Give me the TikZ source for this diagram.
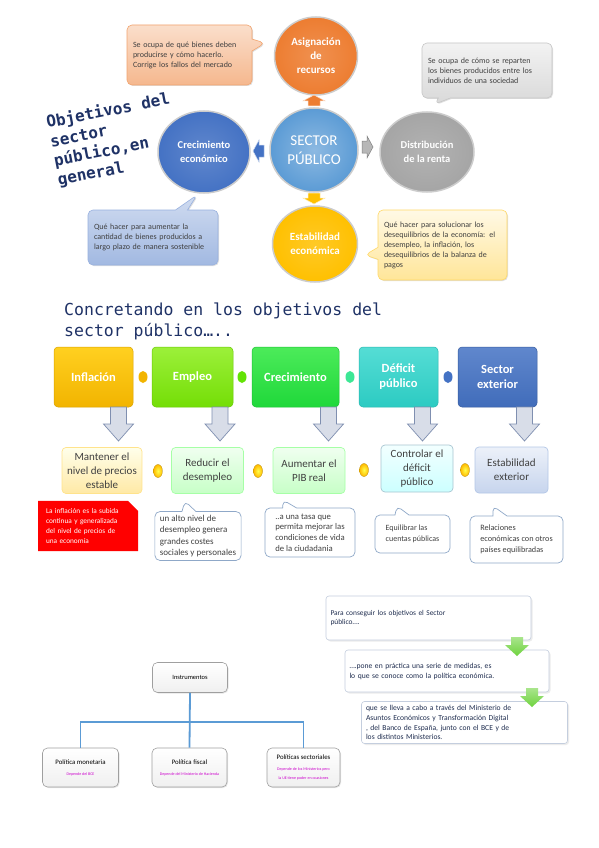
\documentclass[tikz,border=0pt]{standalone}
\usepackage{fontspec}
\setmainfont{Carlito}
\newfontfamily\monof{DejaVu Sans Mono}
\usetikzlibrary{shapes.geometric,shapes.callouts,shapes.misc,shadows}
\definecolor{navy}{HTML}{1F3266}
\definecolor{orng}{HTML}{ED7D31}
\definecolor{blu}{HTML}{4472C4}
\definecolor{lblu}{HTML}{5B9BD5}
\definecolor{gry}{HTML}{A5A5A5}
\definecolor{ylw}{HTML}{FFC000}
\definecolor{txt}{HTML}{404040}
\definecolor{callb}{HTML}{8FA8C8}
\definecolor{flowb}{HTML}{C4CEDE}
\definecolor{flowt}{HTML}{1F2D4F}
\definecolor{arrg}{HTML}{D8DDE8}
\definecolor{arrb}{HTML}{7F8FB0}
\definecolor{grn}{HTML}{6FD33F}
\definecolor{mag}{HTML}{CC00CC}
\definecolor{limeA}{HTML}{9CF03A}
\definecolor{limeB}{HTML}{74DE06}
\definecolor{grnA}{HTML}{4CEB5A}
\definecolor{grnB}{HTML}{1FD83A}
\definecolor{tealA}{HTML}{55DDD5}
\definecolor{tealB}{HTML}{2CCBC2}
\definecolor{ylwA}{HTML}{FFD020}
\definecolor{ylwB}{HTML}{F2B400}
\newcommand\magtext[1]{{\color{mag}\fontsize{4}{4.8}\selectfont #1}}
\newcommand\orgtitle[1]{{\fontsize{6.8}{8.5}\selectfont #1}}
\tikzset{
  bigc/.style={ellipse, inner sep=0pt, align=center, text=white, draw=white!80!black, line width=1.5pt},
  call/.style={rectangle callout, rounded corners=5pt, align=left, inner xsep=6pt, inner ysep=3pt,
    text=txt, font=\fontsize{8}{10}\selectfont, callout pointer width=12pt, line width=0.6pt,
    drop shadow={opacity=0.25, shadow xshift=1pt, shadow yshift=-1pt}},
  topbox/.style={rectangle, rounded corners=4pt, minimum height=60pt, align=center, text=white,
    font=\bfseries\fontsize{12.5}{15}\selectfont, inner sep=2pt, line width=0.5pt},
  midbox/.style={rectangle, rounded corners=4pt, minimum height=46pt, align=center, text=txt,
    font=\fontsize{11}{14}\selectfont, line width=0.7pt, inner sep=2pt},
  wcall/.style={rectangle callout, rounded corners=5pt, fill=white, draw=callb, line width=0.7pt,
    align=left, text=txt, callout pointer width=14pt, inner xsep=5pt},
  dot/.style={ellipse, inner sep=0pt, minimum width=9pt, minimum height=12pt},
  flow/.style={rectangle, rounded corners=3pt, fill=white, draw=flowb, line width=0.6pt, align=left,
    text=flowt, inner xsep=4pt, drop shadow={opacity=0.15, shadow xshift=1.5pt, shadow yshift=-1.5pt}},
  org/.style={rectangle, rounded corners=5pt, top color=white, bottom color=gray!12, draw=gray!75,
    line width=0.6pt, align=center, inner sep=1pt,
    drop shadow={opacity=0.2, shadow xshift=1pt, shadow yshift=-1pt}},
  conn/.style={draw=lblu, line width=1.8pt},
  dnarr/.pic={\path[pic actions] (-8,0) -- (8,0) -- (8,17) -- (15,17) -- (0,34) -- (-15,17) -- (-8,17) -- cycle;},
  smarr/.pic={\path[pic actions] (0,-6) -- (11,0) -- (6,0) -- (6,5) -- (-6,5) -- (-6,0) -- (-11,0) -- cycle;},
  grarr/.pic={\path[pic actions] (-6,0) -- (6,0) -- (6,8) -- (12,8) -- (0,19) -- (-12,8) -- (-6,8) -- cycle;},
}
\begin{document}
\begin{tikzpicture}[x=1pt,y=-1pt]
\useasboundingbox[fill=white] (0,0) rectangle (599,848);

% ---------- Section 1 ----------
\node[anchor=north west, rotate=11, inner sep=0pt, align=left, text=navy,
  font=\monof\bfseries\fontsize{16}{19.5}\selectfont] (title1) at (45,115)
  {Objetivos del\\sector\\público,en\\general};

\node[bigc, minimum width=83pt, minimum height=78pt, inner color=orng!85!white, outer color=orng,
  font=\bfseries\fontsize{11}{14}\selectfont] (asig) at (316,56) {Asignación\\de\\recursos};
\node[bigc, minimum width=88pt, minimum height=84pt, inner color=lblu!70!white, outer color=lblu,
  font=\fontsize{15}{19}\selectfont] (sector) at (314,150) {SECTOR\\PÚBLICO};
\node[bigc, minimum width=92pt, minimum height=82pt, inner color=blu!85!white, outer color=blu,
  font=\bfseries\fontsize{10.5}{14}\selectfont] (crec) at (204,152) {Crecimiento\\económico};
\node[bigc, minimum width=94pt, minimum height=80pt, inner color=gry!85!white, outer color=gry,
  font=\bfseries\fontsize{10.5}{14}\selectfont] (dist) at (427,152) {Distribución\\de la renta};
\node[bigc, minimum width=85pt, minimum height=76pt, inner color=ylw!85!white, outer color=ylw,
  font=\bfseries\fontsize{11}{14}\selectfont] (estab) at (315,244) {Estabilidad\\económica};

\pic[fill=orng, draw=white!70!orng, line width=0.5pt] at (314,101) {smarr};
\pic[rotate=90, fill=blu, draw=white!70!blu, line width=0.5pt] at (259,151) {smarr};
\pic[rotate=-90, fill=gry!80!white, draw=gray, line width=0.5pt] at (367,147) {smarr};
\pic[rotate=180, fill=ylw, draw=white!70!ylw, line width=0.5pt] at (314,198) {smarr};

\node[call, top color=orng!25!white, bottom color=orng!55!white, draw=orng!70!white,
  minimum width=125pt, minimum height=60pt, text width=113pt,
  callout absolute pointer={(265,43)}] (c1) at (189.5,55)
  {Se ocupa de qué bienes deben\\producirse y cómo hacerlo.\\Corrige los fallos del mercado};
\node[call, top color=gray!10, bottom color=gray!30, draw=gray!45,
  minimum width=130pt, minimum height=55pt, text width=118pt,
  callout absolute pointer={(435,104)}] (c2) at (487,70.5)
  {Se ocupa de cómo se reparten\\los bienes producidos entre los\\individuos de una sociedad};
\node[call, top color=blu!25!white, bottom color=blu!50!white, draw=blu!55!white,
  minimum width=130pt, minimum height=55pt, text width=118pt,
  callout absolute pointer={(197,195)}] (c3) at (153,237.5)
  {Qué hacer para aumentar la\\cantidad de bienes producidos a\\largo plazo de manera sostenible};
\node[call, top color=ylw!10!white, bottom color=ylw!40!white, draw=ylw!60!white,
  minimum width=129pt, minimum height=70pt, text width=117pt,
  callout absolute pointer={(365,255)}] (c4) at (442.5,245)
  {Qué hacer para solucionar los\\desequilibrios de la economía: el\\desempleo, la inflación, los\\desequilibrios de la balanza de\\pagos};

% ---------- Section 2 ----------
\node[anchor=north west, inner sep=0pt, align=left, text=navy,
  font=\monof\fontsize{16.5}{21}\selectfont] (title2) at (64,303)
  {Concretando en los objetivos del\\sector público…..};

\node[topbox, minimum width=79pt, top color=ylwA, bottom color=ylwB, draw=ylwB!90!black] (b1) at (93.5,377) {Inflación};
\node[topbox, minimum width=81pt, top color=limeA, bottom color=limeB, draw=limeB!90!black] (b2) at (192.5,377) {Empleo};
\node[topbox, minimum width=87pt, top color=grnA, bottom color=grnB, draw=grnB!90!black] (b3) at (295.5,377) {Crecimiento};
\node[topbox, minimum width=79pt, top color=tealA, bottom color=tealB, draw=tealB!90!black] (b4) at (398.5,377) {Déficit\\público};
\node[topbox, minimum width=79pt, top color=blu!85!white, bottom color=blu!95!black, draw=blu!80!black] (b5) at (497.5,377) {Sector\\exterior};

\node[dot, fill=ylwB] (d1) at (143,377) {};
\node[dot, fill=limeB!85!green] (d2) at (242,377) {};
\node[dot, fill=tealA!70!green] (d3) at (350,377) {};
\node[dot, fill=blu] (d4) at (448,377) {};

\foreach \ax in {118.5,220,328.5,422.5,524.5}
  \pic[fill=arrg, draw=arrb, line width=0.7pt] at (\ax,407) {dnarr};

\node[midbox, minimum width=80pt, top color=yellow!8!white, bottom color=ylw!35!white, draw=ylw!45!white] (m1) at (102,470.5) {Mantener el\\nivel de precios\\estable};
\node[midbox, minimum width=72pt, top color=green!6!white, bottom color=green!22!white, draw=green!35!white] (m2) at (207.5,470.5) {Reducir el\\desempleo};
\node[midbox, minimum width=72pt, top color=green!6!white, bottom color=green!22!white, draw=green!35!white] (m3) at (309,470.5) {Aumentar el\\PIB real};
\node[midbox, minimum width=72pt, minimum height=47pt, top color=cyan!5!white, bottom color=cyan!20!white, draw=cyan!35!gray!60!white] (m4) at (417,468.5) {Controlar el\\déficit\\público};
\node[midbox, minimum width=73pt, top color=blu!10!white, bottom color=blu!30!white, draw=blu!40!white] (m5) at (511.5,470) {Estabilidad\\exterior};

\foreach \dx/\dy/\nm in {158/471/e1, 258/471/e2, 364/470/e3, 465/470/e4}
  \node[dot, minimum height=13pt, inner color=yellow!70!white, outer color=ylw!90!orange, draw=ylw!70!black, line width=0.3pt] (\nm) at (\dx,\dy) {};

\node[chamfered rectangle, chamfered rectangle corners=north east, chamfered rectangle xsep=5pt,
  chamfered rectangle ysep=5pt, fill=red, minimum width=91pt, minimum height=42pt, text=white,
  align=left, text width=84pt, inner sep=3pt, font=\fontsize{7.3}{9.7}\selectfont] (r1) at (88,526)
  {La inflación es la subida\\continua y generalizada\\del nivel de precios de\\una economía};

\node[wcall, minimum width=84pt, minimum height=48pt, font=\fontsize{9}{11.5}\selectfont,
  callout absolute pointer={(185,501)}] (w1) at (198,536)
  {un alto nivel de\\desempleo genera\\grandes costes\\sociales y personales};
\node[wcall, minimum width=90pt, minimum height=49pt, font=\fontsize{8.7}{10.8}\selectfont,
  callout absolute pointer={(283,500)}] (w2) at (310,532.5)
  {..a una tasa que\\permita mejorar las\\condiciones de vida\\de la ciudadania};
\node[wcall, minimum width=75pt, minimum height=38pt, font=\fontsize{8}{11}\selectfont,
  callout absolute pointer={(397,506)}] (w3) at (412.5,534)
  {Equilibrar las\\cuentas públicas};
\node[wcall, minimum width=93pt, minimum height=47pt, font=\fontsize{8.2}{10.8}\selectfont,
  callout absolute pointer={(493,506)}] (w4) at (516.5,539.5)
  {Relaciones\\económicas con otros\\países equilibradas};

% ---------- Section 3 ----------
\node[flow, minimum width=205pt, minimum height=44pt, text width=196pt, font=\fontsize{7.4}{8.6}\selectfont] (f1) at (428.5,618)
  {Para conseguir los objetivos el Sector\\público….};
\node[flow, minimum width=204pt, minimum height=42pt, text width=195pt, font=\fontsize{7.6}{10}\selectfont] (f2) at (447,671)
  {….pone en práctica una serie de medidas, es\\lo que se conoce como la política económica.};
\node[flow, minimum width=206pt, minimum height=42pt, text width=197pt, font=\fontsize{7.6}{9.8}\selectfont] (f3) at (464.5,722.5)
  {que se lleva a cabo a través del Ministerio de\\Asuntos Económicos y Transformación Digital\\, del Banco de España, junto con el BCE y de\\los distintos Ministerios.};
\pic[top color=grn!60!white, bottom color=grn, draw=none] at (517,637) {grarr};
\pic[top color=grn!60!white, bottom color=grn, draw=none] at (532,688) {grarr};

\node[org, minimum width=75pt, minimum height=30pt, font=\fontsize{6.5}{8}\selectfont] (instr) at (190,677.5) {Instrumentos};
\node[org, minimum width=76pt, minimum height=39pt] (mon) at (80.5,767.5)
  {\orgtitle{Política monetaria}\\[-1pt]\magtext{Depende del BCE}};
\node[org, minimum width=75pt, minimum height=39pt] (fisc) at (189.5,767.5)
  {\orgtitle{Política fiscal}\\[-1pt]\magtext{Depende del Ministerio de Hacienda}};
\node[org, minimum width=73pt, minimum height=39pt] (sect) at (303.5,767.5)
  {\orgtitle{Políticas sectoriales}\\[-1pt]\magtext{Depende de los Ministerios pero}\\[-3pt]\magtext{la UE tiene poder en ocasiones}};
\coordinate (hbar) at (190,722);
\draw[conn] (instr.south) -- (fisc.north);
\draw[conn] (mon.north) -- (mon.north |- hbar) -- (sect.north |- hbar) -- (sect.north);
\end{tikzpicture}
\end{document}
